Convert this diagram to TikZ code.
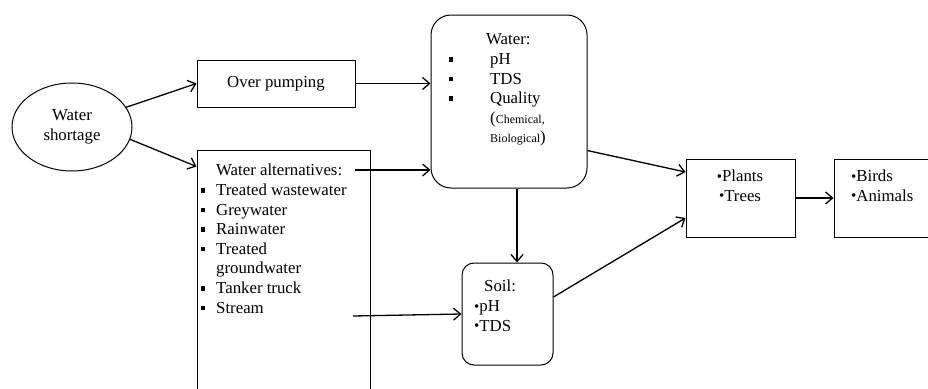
\documentclass[tikz,border=0pt]{standalone}
\usepackage{fontspec}
\setmainfont{Liberation Serif}
\usetikzlibrary{arrows.meta,shapes.geometric}
\newcommand{\sqb}{\raisebox{3pt}{\rule{4pt}{4.5pt}}}
\newcommand{\dotb}{\raisebox{0.5pt}{\fontsize{15}{15}\selectfont\textbullet}}
\newcommand{\smallpar}[1]{{\fontsize{12}{12}\selectfont #1}}

\begin{document}
\begin{tikzpicture}[x=1pt,y=-1pt,
  box/.style={draw, line width=1pt, inner sep=0pt},
  arr/.style={->, >={Straight Barb[length=7pt,width=12pt]}, line width=1.3pt},
  txt/.style={inner sep=0pt, font=\fontsize{16.8}{19.6}\selectfont}]

\useasboundingbox (0,0) rectangle (928,388);
\clip (0,0) rectangle (928,388);

% boxes
\node[box, ellipse, minimum width=120pt, minimum height=88pt, txt, align=center] (short) at (72,127) {Water\\shortage};
\node[box, minimum width=158pt, minimum height=47pt, txt] (pump) at (276,83.5) {Over pumping};
\node[box, minimum width=173pt, minimum height=250pt] (alt) at (283.5,275) {};
\node[box, rounded corners=20pt, minimum width=156pt, minimum height=173pt] (water) at (509,101.5) {};
\node[box, rounded corners=12pt, minimum width=91pt, minimum height=102pt] (soil) at (507.5,314) {};
\node[box, minimum width=109pt, minimum height=78pt] (plants) at (740.5,198) {};
\node[box, minimum width=96pt, minimum height=78pt] (birds) at (882,198) {};

% texts
\node[txt, anchor=north west] (alttxt) at (201,162) {%
  \begin{tabular}{@{}p{15pt}@{}l@{}}
         & Water alternatives:\\
    \sqb & Treated wastewater\\
    \sqb & Greywater\\
    \sqb & Rainwater\\
    \sqb & Treated\\
         & groundwater\\
    \sqb & Tanker truck\\
    \sqb & Stream
  \end{tabular}};
\node[txt, anchor=north west] (watertxt) at (449,31) {%
  \begin{tabular}{@{}p{41pt}@{}l@{}}
         & \hspace{-4pt}Water:\\
    \sqb & pH\\
    \sqb & TDS\\
    \sqb & Quality\\
         & (\smallpar{Chemical,}\\
         & \smallpar{Biological})
  \end{tabular}};
\node[txt, anchor=north west] (soiltxt) at (474,278) {%
  \begin{tabular}{@{}l@{}}
    \hspace{10pt}Soil:\\
    \dotb pH\\
    \dotb TDS
  \end{tabular}};
\node[txt, anchor=north, align=center] (planttxt) at (740,170) {\dotb Plants\\\dotb Trees};
\node[txt, anchor=north west, align=left] (birdtxt) at (851,170) {\dotb Birds\\\dotb Animals};

\coordinate (altout) at (355,170);
\coordinate (streamout) at (353,316);

% arrows
\draw[arr] (short.20) -- (pump.west);
\draw[arr] (short.-12) -- ([yshift=-17pt]alt.north west);
\draw[arr] (pump.east) -- (water.west |- pump.east);
\draw[arr] (altout) -- (water.west |- altout);
\draw[arr] (streamout) -- (soil.west);
\draw[arr] ([xshift=8pt]water.south) -- ([xshift=8pt]water.south |- soil.north);
\draw[arr] (water.-32) -- ([yshift=26pt]plants.west);
\draw[arr] ([yshift=17pt]soil.east) -- ([yshift=-20pt]plants.west);
\draw[arr] (plants.east) -- (birds.west);

\end{tikzpicture}
\end{document}
